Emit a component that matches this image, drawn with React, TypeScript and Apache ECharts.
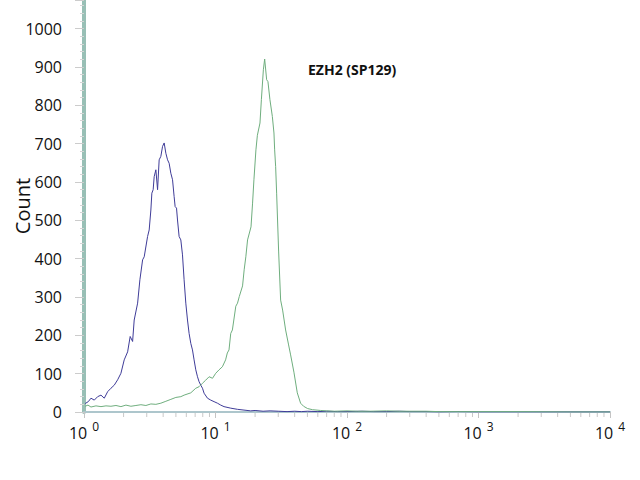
import React, { useEffect, useRef } from "react";
import * as echarts from "echarts";

// Blue (control) histogram: fluorescence intensity and counts
const blueX = [1.02, 1.078, 1.13, 1.197, 1.27, 1.346, 1.426, 1.513, 1.603, 1.698, 1.802, 1.909, 2.022, 2.147, 2.245, 2.342, 2.408, 2.557, 2.661, 2.79, 2.87, 3.045, 3.131, 3.225, 3.281, 3.357, 3.417, 3.52, 3.626, 3.729, 3.841, 3.957, 4.07, 4.193, 4.319, 4.441, 4.575, 4.713, 4.847, 4.932, 5.053, 5.142, 5.288, 5.448, 5.611, 5.771, 5.945, 6.124, 6.299, 6.489, 6.683, 6.874, 7.081, 7.295, 7.501, 7.727, 7.962, 8.188, 8.689, 9.203, 9.75, 10.34, 10.96, 11.61, 13.06, 14.68, 16.47, 18.52, 20, 23, 26, 30, 35, 40, 45, 50, 60, 70, 85, 100, 130, 160, 200, 250, 300, 400, 500, 700, 1000, 2000, 5000, 10000];
const blueCount = [22, 27, 36, 31, 40, 44, 36, 53, 62, 70, 84, 101, 136, 157, 197, 184, 240, 284, 345, 397, 405, 458, 475, 527, 571, 580, 614, 632, 580, 658, 667, 693, 702, 675, 658, 649, 623, 606, 562, 536, 532, 501, 458, 449, 410, 345, 284, 240, 205, 179, 162, 136, 110, 92, 79, 70, 62, 49, 36, 31, 27, 23, 18, 14, 10, 7, 5, 3, 4, 2, 3, 2, 1, 2, 1, 2, 1, 2, 1, 1, 2, 1, 1, 2, 1, 1, 0, 1, 0, 0, 0, 0];

// Green (EZH2) histogram
const greenX = [1.02, 1.072, 1.13, 1.233, 1.346, 1.469, 1.603, 1.75, 1.909, 2.084, 2.274, 2.482, 2.709, 2.956, 3.226, 3.521, 3.843, 4.194, 4.577, 4.996, 5.452, 5.77, 6.49, 7.08, 7.5, 7.96, 8.42, 8.94, 9.49, 10.04, 10.64, 11.28, 11.93, 12.3, 12.67, 13.06, 13.44, 14.27, 14.7, 15.16, 16.06, 16.52, 17.01, 17.53, 18.62, 19.14, 19.6, 20.3, 20.82, 21.79, 22.33, 23.12, 23.65, 24.49, 25.05, 25.94, 27.06, 27.83, 28.17, 28.67, 29.17, 30.2, 31.28, 32.39, 34.14, 35.97, 37.26, 39.47, 41.88, 44.36, 46.75, 50.15, 54.7, 62.9, 70, 80, 100, 120, 150, 200, 250, 300, 400, 500, 700, 1000, 2000, 5000, 10000];
const greenCount = [15, 18, 13, 16, 14, 16, 15, 17, 14, 18, 15, 17, 19, 17, 21, 20, 23, 28, 33, 38, 40, 44, 50, 62, 66, 75, 83, 92, 88, 101, 110, 118, 136, 154, 162, 205, 214, 276, 284, 301, 329, 371, 405, 449, 483, 545, 606, 684, 722, 754, 815, 893, 921, 867, 862, 815, 771, 728, 684, 640, 571, 420, 292, 266, 214, 175, 149, 104, 50, 23, 15, 9, 6, 4, 3, 2, 3, 2, 2, 3, 2, 2, 2, 1, 1, 1, 1, 0, 0];

// Minor tick positions of the logarithmic x axis
const xMinorTicks = [2, 3, 4, 5, 6, 7, 8, 9, 20, 30, 40, 50, 60, 70, 80, 90, 200, 300, 400, 500, 600, 700, 800, 900, 2000, 3000, 4000, 5000, 6000, 7000, 8000, 9000];

const titleText = "EZH2 (SP129)";
const yName = "Count";

export default function App() {
  const ref = useRef<HTMLDivElement>(null);
  useEffect(() => {
    if (!ref.current) return;
    const chart = echarts.init(ref.current, null, { renderer: "svg" });
    const font = "Open Sans";
    chart.setOption({
      animation: false,
      backgroundColor: "#ffffff",
      grid: { left: 84, right: 30, top: 0, bottom: 68, containLabel: false, outerBoundsMode: "none" },
      xAxis: {
        type: "log",
        logBase: 10,
        min: 1,
        max: 10000,
        axisLine: { show: true, onZero: false, lineStyle: { color: "#adc6cc", width: 2 } },
        axisTick: { show: true, length: 6, lineStyle: { color: "#c4c4c4" } },
        splitLine: { show: false },
        axisLabel: {
          margin: 8,
          formatter: (v: number) => `{b|10}{e|${Math.round(Math.log10(v))}}`,
          rich: {
            b: { fontSize: 16, fontFamily: font, color: "#111" },
            e: { fontSize: 12, fontFamily: font, color: "#111", padding: [0, 0, 14, 5] },
          },
        },
      },
      yAxis: {
        type: "value",
        min: 0,
        max: 1075,
        interval: 100,
        name: yName,
        nameLocation: "middle",
        nameGap: 52,
        nameMoveOverlap: false,
        nameTextStyle: { fontSize: 20, fontFamily: font, color: "#111" },
        axisLine: { show: true, lineStyle: { color: "#98bfb5", width: 4 } },
        axisTick: { show: true, length: 9, lineStyle: { color: "#cccccc" } },
        minorTick: { show: true, splitNumber: 5, length: 4, lineStyle: { color: "#d4d4d4" } },
        splitLine: { show: false },
        axisLabel: {
          showMaxLabel: false,
          margin: 22,
          fontSize: 16,
          fontFamily: font,
          color: "#111",
          formatter: (v: number) => (v % 100 === 0 ? String(v) : ""),
        },
      },
      graphic: [
        {
          type: "text",
          left: 308,
          top: 62,
          style: { text: titleText, fontSize: 14, fontWeight: "bold", fontFamily: font, fill: "#111" },
        },
      ],
      series: [
        {
          type: "custom",
          silent: true,
          clip: false,
          data: xMinorTicks.map((v) => [v, 0]),
          encode: { x: 0, y: 1 },
          renderItem: (params: any, api: any) => {
            const p = api.coord([api.value(0), 0]);
            return {
              type: "line",
              shape: { x1: p[0], y1: p[1] + 1, x2: p[0], y2: p[1] + 5 },
              style: { stroke: "#c8c8c8", lineWidth: 1 },
            };
          },
        },
        {
          type: "line",
          showSymbol: false,
          data: blueX.map((x, i) => [x, blueCount[i]]),
          lineStyle: { color: "#3f3c98", width: 1 },
          z: 3,
        },
        {
          type: "line",
          showSymbol: false,
          data: greenX.map((x, i) => [x, greenCount[i]]),
          lineStyle: { color: "#6fae7e", width: 1 },
          z: 4,
        },
      ],
    });
    return () => chart.dispose();
  }, []);
  return <div ref={ref} style={{ position: "fixed", left: 0, top: 0, width: 640, height: 480 }} />;
}
